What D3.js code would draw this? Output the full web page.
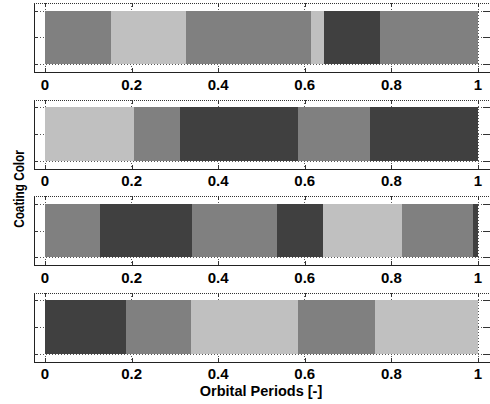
<!DOCTYPE html>
<html>
<head>
<meta charset="utf-8">
<script src="https://cdn.jsdelivr.net/npm/d3@7"></script>
<style>
  html, body { margin: 0; padding: 0; background: #fff; }
  svg { display: block; }
  text { font-family: "Liberation Sans", Arial, sans-serif; font-weight: bold; fill: #000; }
</style>
</head>
<body>
<svg id="chart" width="490" height="404"></svg>
<script>
// Coating colour sequence along one orbital period, for four cases.
const shades = ["dark", "medium", "light"];
const shadeFills = ["#404040", "#808080", "#c0c0c0"];

// Segment end positions (fraction of orbital period) and the shade of each segment.
const case1Ends   = [0.152, 0.326, 0.614, 0.645, 0.774, 1.0];
const case1Shades = ["medium", "light", "medium", "light", "dark", "medium"];
const case2Ends   = [0.206, 0.312, 0.585, 0.751, 1.0];
const case2Shades = ["light", "medium", "dark", "medium", "dark"];
const case3Ends   = [0.127, 0.339, 0.536, 0.643, 0.824, 0.989, 1.0];
const case3Shades = ["medium", "dark", "medium", "dark", "light", "medium", "dark"];
const case4Ends   = [0.186, 0.337, 0.584, 0.762, 1.0];
const case4Shades = ["dark", "medium", "light", "medium", "light"];

const xTicks = [0, 0.2, 0.4, 0.6, 0.8, 1];
const xTickLabels = ["0", "0.2", "0.4", "0.6", "0.8", "1"];
const yTicks = [0.5, 1, 1.5];

const cases = [
  { ends: case1Ends, shades: case1Shades },
  { ends: case2Ends, shades: case2Shades },
  { ends: case3Ends, shades: case3Shades },
  { ends: case4Ends, shades: case4Shades }
];

const svg = d3.select("#chart");
const fill = d3.scaleOrdinal().domain(shades).range(shadeFills);

const boxLeft = 34, boxRight = 491;
const x = d3.scaleLinear().domain([0, 1]).range([45, 478]);
const panelTop0 = 3, panelPitch = 96.5, panelH = 69;

cases.forEach((c, i) => {
  const top = panelTop0 + i * panelPitch;
  const bottom = top + panelH;
  const y = d3.scaleLinear().domain([1.65, 0.35]).range([top, bottom]);
  const g = svg.append("g");

  // Dotted grid lines
  g.selectAll("line.vgrid").data(xTicks).join("line")
    .attr("x1", d => x(d)).attr("x2", d => x(d))
    .attr("y1", top).attr("y2", bottom)
    .attr("stroke", "#555").attr("stroke-width", 1)
    .attr("stroke-dasharray", "1,2").attr("shape-rendering", "crispEdges");
  g.selectAll("line.hgrid").data(yTicks).join("line")
    .attr("x1", boxLeft).attr("x2", boxRight)
    .attr("y1", d => Math.round(y(d)) + 0.5).attr("y2", d => Math.round(y(d)) + 0.5)
    .attr("stroke", "#555").attr("stroke-width", 1)
    .attr("stroke-dasharray", "1,2").attr("shape-rendering", "crispEdges");

  // Colour segments
  const segs = c.ends.map((e, k) => ({ start: k === 0 ? 0 : c.ends[k - 1], end: e, shade: c.shades[k] }));
  g.selectAll("rect.seg").data(segs).join("rect")
    .attr("x", d => x(d.start))
    .attr("width", d => x(d.end) - x(d.start))
    .attr("y", y(1.5))
    .attr("height", y(0.5) - y(1.5))
    .attr("fill", d => fill(d.shade))
    .attr("shape-rendering", "crispEdges");

  // Axes box: solid left/bottom, dotted top
  g.append("line").attr("x1", boxLeft + 0.5).attr("x2", boxLeft + 0.5)
    .attr("y1", top).attr("y2", bottom + 0.5)
    .attr("stroke", "#222").attr("stroke-width", 1).attr("shape-rendering", "crispEdges");
  g.append("line").attr("x1", boxLeft).attr("x2", boxRight)
    .attr("y1", Math.round(bottom) + 0.5).attr("y2", Math.round(bottom) + 0.5)
    .attr("stroke", "#222").attr("stroke-width", 1).attr("shape-rendering", "crispEdges");
  g.append("line").attr("x1", boxLeft).attr("x2", boxRight)
    .attr("y1", Math.round(top) + 0.5).attr("y2", Math.round(top) + 0.5)
    .attr("stroke", "#333").attr("stroke-width", 1)
    .attr("stroke-dasharray", "1,1").attr("shape-rendering", "crispEdges");

  // Tick marks (inward)
  const tl = 4;
  g.selectAll("line.xtb").data(xTicks).join("line")
    .attr("x1", d => Math.round(x(d)) + 0.5).attr("x2", d => Math.round(x(d)) + 0.5)
    .attr("y1", bottom).attr("y2", bottom - tl)
    .attr("stroke", "#333").attr("shape-rendering", "crispEdges");
  g.selectAll("line.xtt").data(xTicks).join("line")
    .attr("x1", d => Math.round(x(d)) + 0.5).attr("x2", d => Math.round(x(d)) + 0.5)
    .attr("y1", top).attr("y2", top + tl)
    .attr("stroke", "#333").attr("shape-rendering", "crispEdges");
  g.selectAll("line.ytl").data(yTicks).join("line")
    .attr("x1", boxLeft).attr("x2", boxLeft + tl)
    .attr("y1", d => Math.round(y(d)) + 0.5).attr("y2", d => Math.round(y(d)) + 0.5)
    .attr("stroke", "#333").attr("shape-rendering", "crispEdges");
  g.selectAll("line.ytr").data(yTicks).join("line")
    .attr("x1", boxRight - tl - 4).attr("x2", boxRight)
    .attr("y1", d => Math.round(y(d)) + 0.5).attr("y2", d => Math.round(y(d)) + 0.5)
    .attr("stroke", "#333").attr("shape-rendering", "crispEdges");

  // Tick labels
  g.selectAll("text.xl").data(xTicks).join("text")
    .attr("x", d => x(d)).attr("y", bottom + 17.5)
    .attr("text-anchor", "middle")
    .attr("font-size", 15)
    .text((d, k) => xTickLabels[k]);
});

// Axis titles
svg.append("text")
  .attr("x", 261).attr("y", 395.5)
  .attr("text-anchor", "middle")
  .attr("font-size", 14.5)
  .text("Orbital Periods [-]");

svg.append("text")
  .attr("transform", "translate(24,189) rotate(-90) scale(0.84,1)")
  .attr("text-anchor", "middle")
  .attr("font-size", 14)
  .text("Coating Color");
</script>
</body>
</html>
